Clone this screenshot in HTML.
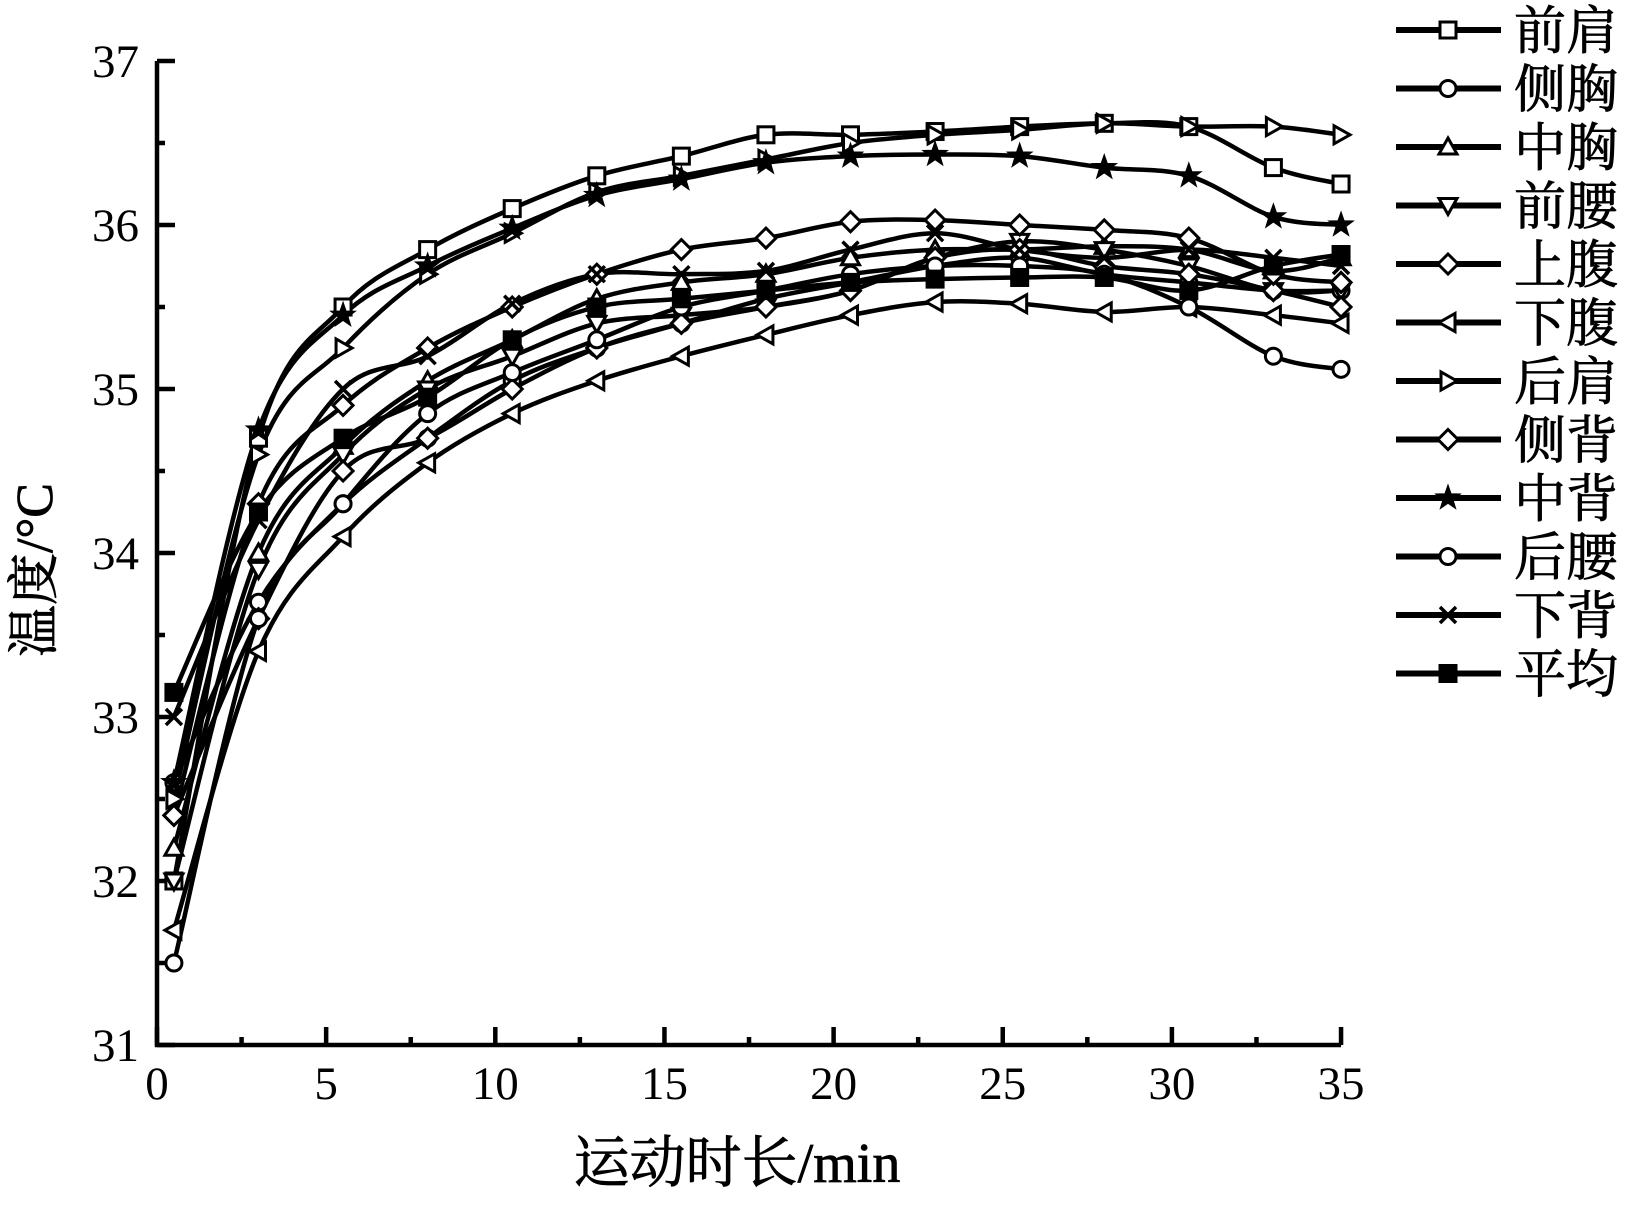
<!DOCTYPE html>
<html><head><meta charset="utf-8"><style>
html,body{margin:0;padding:0;background:#fff;}
svg{display:block;}
text{font-family:"Liberation Serif","Noto Serif CJK SC",serif;fill:#000;}
</style></head><body>
<svg id="c" width="1647" height="1211" viewBox="0 0 1647 1211" xmlns="http://www.w3.org/2000/svg">
<g id="axes" stroke="#000" stroke-width="4.5" fill="none"></g>
<g id="series"></g>
<g id="labels" font-size="47"></g>
<g id="legend"></g>
<text x="737" y="1182" font-size="56" text-anchor="middle" stroke="#000" stroke-width="0.8">运动时长/min</text>
<text transform="translate(52,570) rotate(-90)" font-size="52" text-anchor="middle" stroke="#000" stroke-width="0.8">温度/°C</text>
</svg>
<script>
var NS="http://www.w3.org/2000/svg";
function X(t){return 157+t*33.83;}
function Y(v){return 61+(37-v)*164;}
function el(tag,attrs,parent,txt){var e=document.createElementNS(NS,tag);for(var k in attrs)e.setAttribute(k,attrs[k]);if(txt!==undefined)e.textContent=txt;parent.appendChild(e);return e;}
var axes=document.getElementById('axes'),labels=document.getElementById('labels');
el('path',{d:'M'+X(0)+' '+Y(37)+' V'+Y(31)+' H'+X(35)},axes);
for(var v=31;v<=37;v+=0.5){var len=(v%1==0)?18:8;el('line',{x1:X(0),y1:Y(v),x2:X(0)+len,y2:Y(v)},axes);}
for(var v=31;v<=37;v++){el('text',{x:X(0)-18,y:Y(v)+16,'text-anchor':'end'},labels,String(v));}
for(var t=0;t<=35;t+=2.5){var len=(t%5==0)?18:8;el('line',{x1:X(t),y1:Y(31),x2:X(t),y2:Y(31)-len},axes);}
for(var t=0;t<=35;t+=5){el('text',{x:X(t),y:Y(31)+54,'text-anchor':'middle'},labels,String(t));}
var T=[0.5,3,5.5,8,10.5,13,15.5,18,20.5,23,25.5,28,30.5,33,35];
var S=[
['前肩','sq',[32.0,34.7,35.5,35.85,36.1,36.3,36.42,36.55,36.55,36.57,36.6,36.62,36.6,36.35,36.25]],
['侧胸','ci',[32.6,33.7,34.3,34.7,35.05,35.25,35.4,35.55,35.65,35.75,35.8,35.7,35.65,35.6,35.6]],
['中胸','tu',[32.2,34.0,34.65,35.05,35.3,35.55,35.65,35.7,35.8,35.85,35.85,35.87,35.85,35.72,35.8]],
['前腰','td',[32.0,33.9,34.6,35.0,35.2,35.4,35.45,35.5,35.6,35.8,35.9,35.85,35.75,35.6,35.6]],
['上腹','di',[32.4,33.6,34.5,34.7,35.0,35.25,35.4,35.5,35.6,35.8,35.85,35.75,35.7,35.6,35.5]],
['下腹','tl',[31.7,33.4,34.1,34.55,34.85,35.05,35.2,35.33,35.45,35.53,35.52,35.47,35.5,35.45,35.4]],
['后肩','tr',[32.5,34.6,35.25,35.7,35.95,36.2,36.3,36.4,36.5,36.55,36.58,36.62,36.6,36.6,36.55]],
['侧背','di',[32.4,34.3,34.9,35.25,35.5,35.7,35.85,35.92,36.02,36.03,36.0,35.97,35.92,35.7,35.65]],
['中背','st',[32.6,34.75,35.45,35.75,35.98,36.18,36.28,36.38,36.42,36.43,36.42,36.35,36.3,36.05,36.0]],
['后腰','ci',[31.5,33.6,34.3,34.85,35.1,35.3,35.5,35.6,35.7,35.75,35.75,35.7,35.5,35.2,35.12]],
['下背','x',[33.0,34.2,35.0,35.2,35.52,35.7,35.7,35.72,35.85,35.95,35.85,35.8,35.85,35.8,35.75]],
['平均','fs',[33.15,34.25,34.7,34.95,35.3,35.5,35.55,35.6,35.65,35.67,35.68,35.68,35.6,35.75,35.82]]
];
function marker(type,x,y,g){var r=8,a={stroke:'#000','stroke-width':3,fill:'#fff'};
 if(type=='sq'){a.x=x-r;a.y=y-r;a.width=2*r;a.height=2*r;el('rect',a,g);}
 else if(type=='fs'){a.x=x-r;a.y=y-r;a.width=2*r;a.height=2*r;a.fill='#000';el('rect',a,g);}
 else if(type=='ci'){a.cx=x;a.cy=y;a.r=r;el('circle',a,g);}
 else if(type=='di'){a.points=[x,y-r-2,x+r+2,y,x,y+r+2,x-r-2,y].join(' ');el('polygon',a,g);}
 else if(type=='tu'){a.points=[x,y-r-1,x+r+1,y+r-1,x-r-1,y+r-1].join(' ');el('polygon',a,g);}
 else if(type=='td'){a.points=[x,y+r+1,x+r+1,y-r+1,x-r-1,y-r+1].join(' ');el('polygon',a,g);}
 else if(type=='tl'){a.points=[x-r-1,y,x+r-1,y-r-1,x+r-1,y+r+1].join(' ');el('polygon',a,g);}
 else if(type=='tr'){a.points=[x+r+1,y,x-r+1,y-r-1,x-r+1,y+r+1].join(' ');el('polygon',a,g);}
 else if(type=='st'){var p=[];for(var i=0;i<10;i++){var ang=-Math.PI/2+i*Math.PI/5,rr=i%2?4:10;p.push(x+rr*Math.cos(ang),y+rr*Math.sin(ang));}a.points=p.join(' ');a.fill='#000';el('polygon',a,g);}
 else if(type=='x'){el('path',{d:'M'+(x-r)+' '+(y-r)+'L'+(x+r)+' '+(y+r)+'M'+(x-r)+' '+(y+r)+'L'+(x+r)+' '+(y-r),stroke:'#000','stroke-width':3.5},g);}
}
function smooth(p){var d='M'+p[0][0]+' '+p[0][1];for(var i=0;i<p.length-1;i++){var p0=p[i-1]||p[i],p1=p[i],p2=p[i+1],p3=p[i+2]||p2;
 var c1x=p1[0]+(p2[0]-p0[0])/6,c1y=p1[1]+(p2[1]-p0[1])/6,c2x=p2[0]-(p3[0]-p1[0])/6,c2y=p2[1]-(p3[1]-p1[1])/6;
 d+=' C'+c1x+' '+c1y+' '+c2x+' '+c2y+' '+p2[0]+' '+p2[1];}return d;}
var sg=document.getElementById('series');
S.forEach(function(s){var p=s[2].map(function(v,i){return [X(T[i]),Y(v)];});
 el('path',{d:smooth(p),fill:'none',stroke:'#000','stroke-width':4.5,'stroke-linejoin':'round'},sg);});
S.forEach(function(s){s[2].forEach(function(v,i){marker(s[1],X(T[i]),Y(v),sg);});});
var lg=document.getElementById('legend');
S.forEach(function(s,i){var y=30+i*58.5;
 el('line',{x1:1396,y1:y,x2:1501,y2:y,stroke:'#000','stroke-width':6},lg);
 marker(s[1],1448,y,lg);
 el('text',{x:1514,y:y+19,'font-size':52,stroke:'#000','stroke-width':0.8},lg,s[0]);});
</script>
</body></html>
